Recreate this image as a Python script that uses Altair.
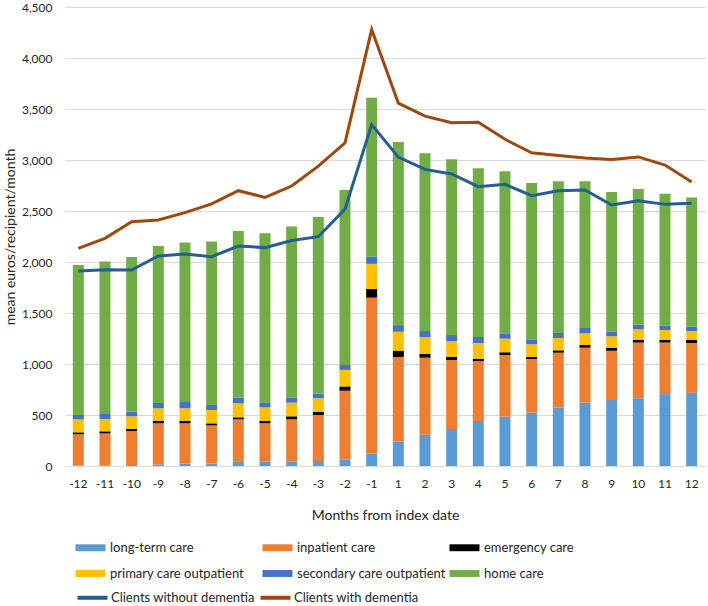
import altair as alt
import pandas as pd

# Months relative to the index date (no month 0)
months = [str(m) for m in list(range(-12, 0)) + list(range(1, 13))]

# Mean cost per recipient per month by care type (euros)
long_term = [5, 8, 10, 16, 23, 26, 40, 42, 46, 49, 65, 124,
             241, 306, 363, 441, 484, 523, 575, 621, 647, 665, 705, 718]
inpatient = [306, 312, 333, 403, 396, 373, 418, 377, 412, 452, 673, 1527,
             828, 756, 676, 588, 604, 526, 536, 539, 483, 545, 505, 488]
emergency = [19, 20, 20, 25, 25, 19, 19, 22, 29, 29, 42, 84,
             62, 39, 33, 23, 27, 20, 23, 26, 30, 26, 26, 29]
primary = [128, 121, 124, 122, 122, 131, 138, 134, 134, 133, 162, 247,
           185, 163, 151, 154, 133, 124, 121, 115, 112, 104, 97, 87]
secondary = [42, 49, 45, 52, 61, 49, 55, 46, 52, 48, 49, 72,
             65, 59, 61, 59, 53, 49, 49, 52, 45, 45, 45, 43]
home = [1470, 1495, 1518, 1539, 1563, 1602, 1634, 1660, 1676, 1729, 1716, 1556,
        1796, 1744, 1723, 1653, 1588, 1533, 1487, 1438, 1369, 1330, 1292, 1267]

# Total monthly cost per client group
without_dementia = [1912, 1925, 1921, 2059, 2078, 2052, 2157, 2141, 2210, 2248, 2518, 3347,
                    3028, 2908, 2863, 2739, 2762, 2650, 2699, 2706, 2559, 2600, 2565, 2575]
with_dementia = [2134, 2232, 2395, 2412, 2484, 2569, 2699, 2634, 2745, 2940, 3168, 4279,
                 3558, 3430, 3365, 3370, 3203, 3070, 3045, 3020, 3005, 3030, 2950, 2785]

components = ["long-term care", "inpatient care", "emergency care",
              "primary care outpatient", "secondary care outpatient", "home care"]
component_values = [long_term, inpatient, emergency, primary, secondary, home]
component_colors = ["#5B9BD5", "#ED7D31", "#000000", "#FFC000", "#4472C4", "#70AD47"]

groups = ["Clients without dementia", "Clients with dementia"]
group_values = [without_dementia, with_dementia]
group_colors = ["#255E91", "#9E480E"]

bar_rows = []
for idx, (name, vals) in enumerate(zip(components, component_values)):
    for m, v in zip(months, vals):
        bar_rows.append({"month": m, "component": name, "value": v, "stack_order": idx})
bars_df = pd.DataFrame(bar_rows)

line_rows = []
for name, vals in zip(groups, group_values):
    for m, v in zip(months, vals):
        line_rows.append({"month": m, "group": name, "value": v})
lines_df = pd.DataFrame(line_rows)

FONT = "Lato"
TEXT = "#262626"

x_enc = alt.X(
    "month:N",
    sort=months,
    scale=alt.Scale(paddingInner=0, paddingOuter=0),
    axis=alt.Axis(
        title="Months from index date",
        labelAngle=0,
        ticks=False,
        domainColor="#D9D9D9",
        labelPadding=12,
        titlePadding=19,
    ),
)

y_enc = alt.Y(
    "value:Q",
    stack="zero",
    scale=alt.Scale(domain=[0, 4500], nice=False),
    axis=alt.Axis(
        title="mean euros/recipient/month",
        values=list(range(0, 4501, 500)),
        format=",.0f",
        ticks=False,
        domain=False,
        labelPadding=13,
        titlePadding=4,
    ),
)

bars = alt.Chart(bars_df).mark_bar(size=11).encode(
    x=x_enc,
    y=y_enc,
    color=alt.Color(
        "component:N",
        scale=alt.Scale(domain=components, range=component_colors),
        legend=alt.Legend(
            title=None,
            orient="none",
            direction="horizontal",
            legendX=18,
            legendY=533,
            columns=3,
            gridAlign="all",
            symbolType="M-2,-0.46H2V0.46H-2Z",
            symbolSize=225,
            symbolStrokeWidth=0,
            labelOffset=12,
            rowPadding=11,
            columnPadding=3,
            labelLimit=300,
        ),
    ),
    order=alt.Order("stack_order:Q", sort="ascending"),
)

lines = alt.Chart(lines_df).mark_line(strokeWidth=3).encode(
    x=x_enc,
    y=alt.Y("value:Q"),
    stroke=alt.Stroke(
        "group:N",
        scale=alt.Scale(domain=groups, range=group_colors),
        legend=alt.Legend(
            title=None,
            orient="none",
            direction="horizontal",
            legendX=18,
            legendY=581,
            columns=3,
            gridAlign="all",
            symbolType="M-2,0H2",
            symbolSize=225,
            symbolStrokeWidth=4,
            labelOffset=9,
            columnPadding=-3,
            labelLimit=300,
        ),
    ),
)

chart = (
    alt.layer(bars, lines)
    .properties(
        width=640,
        height=459,
        autosize=alt.AutoSizeParams(type="none"),
        padding={"left": 65, "top": 7, "right": 3, "bottom": 140},
        background="white",
    )
    .configure_view(stroke=None)
    .configure_axis(
        labelFont=FONT,
        titleFont=FONT,
        labelFontSize=12,
        titleFontSize=14,
        labelColor=TEXT,
        titleColor=TEXT,
        titleFontWeight="normal",
        gridColor="#D9D9D9",
        gridWidth=1,
    )
    .configure_axisX(grid=False)
    .configure_legend(
        labelFont=FONT,
        labelFontSize=13,
        labelColor=TEXT,
        padding=0,
    )
)

chart.save("out.html", embed_options={"renderer": "svg", "actions": False})
